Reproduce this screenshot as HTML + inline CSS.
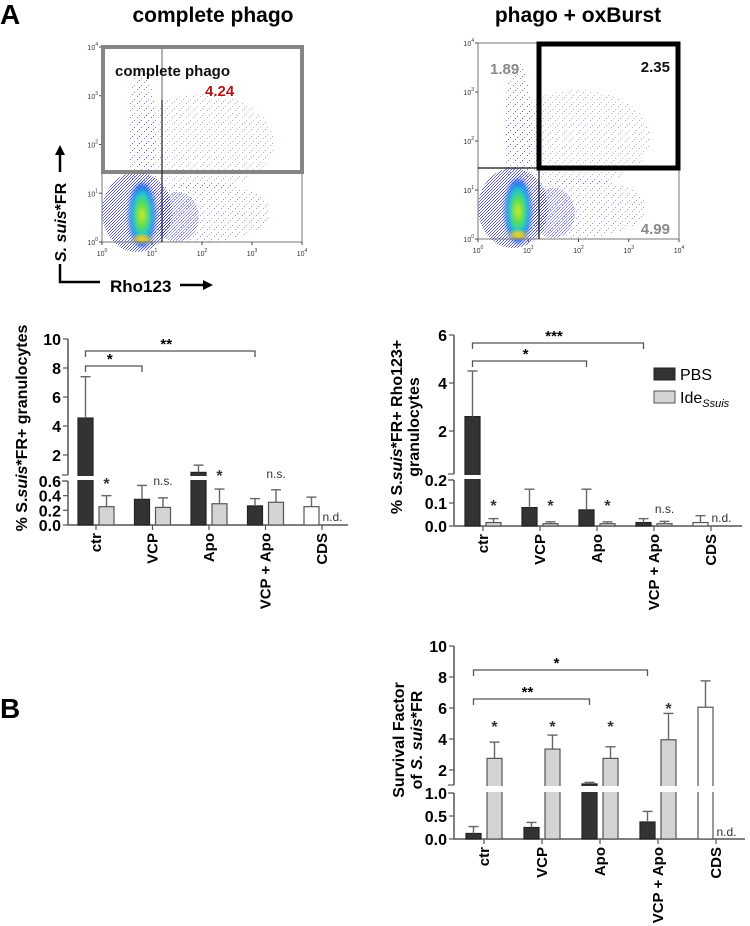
<!DOCTYPE html>
<html><head><meta charset="utf-8">
<style>
html,body{margin:0;padding:0;background:#fff;}
svg{display:block;font-family:"Liberation Sans",sans-serif;}
</style></head>
<body>
<svg id="fig" width="750" height="926" viewBox="0 0 750 926" xmlns="http://www.w3.org/2000/svg">
<defs>
  <pattern id="dots" width="7" height="7" patternUnits="userSpaceOnUse">
    <rect x="0" y="0" width="1" height="1" fill="#3030e0"/>
    <rect x="4" y="3" width="1" height="1" fill="#4545f0"/>
    <rect x="2" y="5" width="1" height="1" fill="#2020c8"/>
  </pattern>
  <pattern id="dotsDense" width="3" height="3" patternUnits="userSpaceOnUse">
    <rect x="0" y="0" width="1" height="1" fill="#1a1ad0"/>
    <rect x="2" y="1" width="1" height="1" fill="#2020e0"/>
    <rect x="1" y="2" width="1" height="1" fill="#1010b8"/>
  </pattern>
  <radialGradient id="core" cx="50%" cy="50%" r="50%">
    <stop offset="0" stop-color="#e8f020"/>
    <stop offset="0.35" stop-color="#5adf40"/>
    <stop offset="0.65" stop-color="#20c8d8"/>
    <stop offset="0.85" stop-color="#2060f0"/>
    <stop offset="1" stop-color="#1a1ad0" stop-opacity="0"/>
  </radialGradient>
  <filter id="blur2"><feGaussianBlur stdDeviation="2"/></filter>
</defs>

<text x="0" y="24" font-size="28" font-weight="bold">A</text>
<text x="213" y="22" font-size="21" font-weight="bold" text-anchor="middle">complete phago</text>
<text x="578" y="22" font-size="21" font-weight="bold" text-anchor="middle">phago + oxBurst</text>
<text x="0" y="718" font-size="28" font-weight="bold">B</text>

<g id="flows"></g>
<g id="charts"></g>
</svg>

<script>
// ---------- chart data ----------
const categories = ["ctr", "VCP", "Apo", "VCP + Apo", "CDS"];
// chart 1: % S.suis*FR+ granulocytes
const c1Pbs = [4.55, 0.35, 0.8, 0.26];
const c1PbsErr = [7.4, 0.54, 1.3, 0.36];
const c1Ide = [0.25, 0.24, 0.29, 0.31];
const c1IdeErr = [0.40, 0.37, 0.49, 0.48];
const c1Cds = [0.25];
const c1CdsErr = [0.38];
const c1TicksLow = [0, 0.2, 0.4, 0.6];
const c1TicksHigh = [2, 4, 6, 8, 10];
const c1TickLabelsLow = ["0.0", "0.2", "0.4", "0.6"];
const c1TickLabelsHigh = ["2", "4", "6", "8", "10"];
// chart 2: % S.suis*FR+ Rho123+ granulocytes
const c2Pbs = [2.6, 0.08, 0.07, 0.015];
const c2PbsErr = [4.5, 0.16, 0.16, 0.032];
const c2Ide = [0.015, 0.01, 0.01, 0.01];
const c2IdeErr = [0.032, 0.018, 0.018, 0.02];
const c2Cds = [0.015];
const c2CdsErr = [0.045];
const c2TicksLow = [0, 0.1, 0.2];
const c2TicksHigh = [2, 4, 6];
const c2TickLabelsLow = ["0.0", "0.1", "0.2"];
const c2TickLabelsHigh = ["2", "4", "6"];
// chart 3: survival factor
const c3Pbs = [0.12, 0.25, 1.1, 0.37];
const c3PbsErr = [0.27, 0.36, 1.2, 0.6];
const c3Ide = [2.75, 3.35, 2.75, 3.95];
const c3IdeErr = [3.8, 4.25, 3.5, 5.65];
const c3Cds = [6.05];
const c3CdsErr = [7.75];
const c3TicksLow = [0, 0.5, 1.0];
const c3TicksHigh = [2, 4, 6, 8, 10];
const c3TickLabelsLow = ["0.0", "0.5", "1.0"];
const c3TickLabelsHigh = ["2", "4", "6", "8", "10"];

const NS = "http://www.w3.org/2000/svg";
function mk(tag, attrs, parent, text) {
  const e = document.createElementNS(NS, tag);
  for (const k in attrs) e.setAttribute(k, attrs[k]);
  if (text !== undefined) e.textContent = text;
  parent.appendChild(e);
  return e;
}

// ---------- flow plots (decorative) ----------
function flow(g, ox, oy) {
  const G = mk("g", {transform: "translate(" + ox + "," + oy + ")"}, g);
  
  
  mk("ellipse", {cx: 40, cy: 90, rx: 14, ry: 70, fill: "url(#dots)", opacity: 0.6}, G);
  mk("ellipse", {cx: 100, cy: 95, rx: 72, ry: 48, fill: "url(#dots)", opacity: 0.4}, G);
  mk("ellipse", {cx: 100, cy: 165, rx: 68, ry: 30, fill: "url(#dots)", opacity: 0.5}, G);
  mk("ellipse", {cx: 35, cy: 165, rx: 35, ry: 40, fill: "url(#dotsDense)", opacity: 0.7}, G);
  mk("ellipse", {cx: 75, cy: 170, rx: 22, ry: 25, fill: "url(#dotsDense)", opacity: 0.45}, G);
  mk("ellipse", {cx: 40, cy: 168, rx: 14, ry: 34, fill: "url(#core)", filter: "url(#blur2)"}, G);
  mk("ellipse", {cx: 40, cy: 192, rx: 8, ry: 4, fill: "#f0d020", filter: "url(#blur2)"}, G);
}
const flows = document.getElementById("flows");
flow(flows, 102, 47);
flow(flows, 478, 43);

function flowAxes(x0, y0, w, h) {
  const g = mk("g", {}, flows);
  
  
  mk("rect", {x: x0, y: y0, width: w, height: h, fill: "none", stroke: "#777", "stroke-width": 1}, g);
  const labs = ["0", "1", "2", "3", "4"];
  for (let i = 0; i < 5; i++) {
    const yy = y0 + h - i * h / 4;
    const xx = x0 + i * w / 4;
    const t1 = mk("text", {x: x0 - 4, y: yy + 3, "font-size": 7, "text-anchor": "end", fill: "#333"}, g, "10");
    mk("tspan", {dy: -4, "font-size": 5}, t1, labs[i]);
    const t2 = mk("text", {x: xx, y: y0 + h + 14, "font-size": 7, "text-anchor": "middle", fill: "#333"}, g, "10");
    mk("tspan", {dy: -4, "font-size": 5}, t2, labs[i]);
    mk("line", {x1: x0 - 3, x2: x0, y1: yy, y2: yy, stroke: "#444"}, g);
    mk("line", {x1: xx, x2: xx, y1: y0 + h, y2: y0 + h + 3, stroke: "#444"}, g);
  }
}
flowAxes(102, 47, 200, 195);
flowAxes(478, 43, 201, 196);

(function(){
  const g = mk("g", {}, flows);
  
  
  mk("rect", {x: 103, y: 47, width: 199, height: 125, fill: "none", stroke: "#858585", "stroke-width": 4}, g);
  mk("line", {x1: 162, x2: 162, y1: 100, y2: 242, stroke: "#222", "stroke-width": 1.2}, g);
  mk("line", {x1: 162, x2: 162, y1: 49, y2: 100, stroke: "#666", "stroke-width": 1}, g);
  mk("text", {x: 115, y: 76, "font-size": 15, "font-weight": "bold", fill: "#111"}, g, "complete phago");
  mk("text", {x: 205, y: 96, "font-size": 15, "font-weight": "bold", fill: "#b01818"}, g, "4.24");
  const g2 = mk("g", {}, flows);
  
  
  mk("line", {x1: 478, x2: 541, y1: 168, y2: 168, stroke: "#111", "stroke-width": 1.2}, g2);
  mk("line", {x1: 539, x2: 539, y1: 168, y2: 239, stroke: "#111", "stroke-width": 1.2}, g2);
  mk("rect", {x: 539, y: 44, width: 139, height: 124, fill: "none", stroke: "#000", "stroke-width": 5}, g2);
  mk("text", {x: 490, y: 74, "font-size": 15, "font-weight": "bold", fill: "#888"}, g2, "1.89");
  mk("text", {x: 670, y: 72, "font-size": 15, "font-weight": "bold", fill: "#111", "text-anchor": "end"}, g2, "2.35");
  mk("text", {x: 670, y: 234, "font-size": 15, "font-weight": "bold", fill: "#888", "text-anchor": "end"}, g2, "4.99");
  const g3 = mk("g", {}, flows);
  
  
  mk("path", {d: "M60 152 L60 282 L100 282", fill: "none", stroke: "#000", "stroke-width": 2.5}, g3);
  mk("rect", {x: 50, y: 172, width: 20, height: 92, fill: "#fff"}, g3);
  const yl = mk("text", {x: 0, y: 0, "font-size": 16, "font-weight": "bold", transform: "translate(66,262) rotate(-90)"}, g3);
  mk("tspan", {"font-style": "italic"}, yl, "S. suis");
  mk("tspan", {}, yl, "*FR");
  mk("path", {d: "M60 145 l-5 10 h10 z", fill: "#000"}, g3);
  mk("text", {x: 110, y: 292, "font-size": 17, "font-weight": "bold"}, g3, "Rho123");
  mk("line", {x1: 180, x2: 205, y1: 285, y2: 285, stroke: "#000", "stroke-width": 2.5}, g3);
  mk("path", {d: "M213 285 l-10 -5 v10 z", fill: "#000"}, g3);
})();

// ---------- bar charts ----------
const charts = document.getElementById("charts");
function barChart(cfg) {
  const g = mk("g", {}, charts);
  
  
  const L = cfg.low, H = cfg.high;
  function y(v) {
    if (v <= L.max) return L.y0 - (v / L.max) * (L.y0 - L.y1);
    if (v < H.min) return L.y1;
    return H.refY - (v - H.ref) * H.ppu;
  }
  const bx = i => cfg.x0 + cfg.step * i;
  const ax = cfg.axisX;
  mk("line", {x1: ax, x2: ax, y1: L.y0, y2: L.y1, stroke: "#555", "stroke-width": 1.5}, g);
  mk("line", {x1: ax, x2: ax, y1: cfg.breakTop, y2: y(H.max), stroke: "#555", "stroke-width": 1.5}, g);
  mk("line", {x1: ax - 6, x2: ax, y1: cfg.breakTop, y2: cfg.breakTop, stroke: "#555", "stroke-width": 1.2}, g);
  mk("line", {x1: ax - 6, x2: ax, y1: L.y1, y2: L.y1, stroke: "#555", "stroke-width": 1.2}, g);
  mk("line", {x1: ax, x2: cfg.baseEnd, y1: L.y0, y2: L.y0, stroke: "#555", "stroke-width": 1.5}, g);
  cfg.ticksLow.forEach((t, i) => {
    const yy = y(t);
    mk("line", {x1: ax - 5, x2: ax, y1: yy, y2: yy, stroke: "#555", "stroke-width": 1.2}, g);
    const tl = mk("text", {x: ax - 7, y: yy + 6, "font-size": 16, "font-weight": "bold", "text-anchor": "end"}, g, cfg.tickLabelsLow[i]);
    
    
  });
  cfg.ticksHigh.forEach((t, i) => {
    const yy = y(t);
    mk("line", {x1: ax - 5, x2: ax, y1: yy, y2: yy, stroke: "#555", "stroke-width": 1.2}, g);
    const tl = mk("text", {x: ax - 7, y: yy + 6, "font-size": 16, "font-weight": "bold", "text-anchor": "end"}, g, cfg.tickLabelsHigh[i]);
    
    
  });
  function bar(x, v, e, fill, nm) {
    const top = y(v), et = y(e);
    const r = mk("rect", {x: x, y: top, width: cfg.bw, height: L.y0 - top, fill: fill, stroke: fill === "#333" ? "#222" : "#555", "stroke-width": 1.2}, g);
    
    
    const cx = x + cfg.bw / 2;
    const el = mk("line", {x1: cx, x2: cx, y1: top, y2: et, stroke: "#666", "stroke-width": 1.4}, g);
    
    
    mk("line", {x1: cx - 5, x2: cx + 5, y1: et, y2: et, stroke: "#666", "stroke-width": 1.4}, g);
    if (top < cfg.breakTop) {
      mk("rect", {x: x - 3, y: cfg.breakTop + 1, width: cfg.bw + 6, height: L.y1 - cfg.breakTop - 2, fill: "#fff"}, g);
    }
  }
  for (let i = 0; i < cfg.pbs.length; i++) {
    bar(bx(i), cfg.pbs[i], cfg.pbsErr[i], "#333", "bar-pbs-" + i);
    bar(bx(i) + cfg.gap, cfg.ide[i], cfg.ideErr[i], "#d4d4d4", "bar-ide-" + i);
  }
  bar(bx(4), cfg.cds[0], cfg.cdsErr[0], "#fff", "bar-cds");
  categories.forEach((c, i) => {
    const cx = bx(i) + (cfg.gap + cfg.bw) / 2;
    mk("line", {x1: cx, x2: cx, y1: L.y0, y2: L.y0 + 5, stroke: "#555", "stroke-width": 1.2}, g);
    const t = mk("text", {x: 0, y: 0, "font-size": 15, "font-weight": "bold", "text-anchor": "end", transform: "translate(" + (cx + 5) + "," + (L.y0 + 8) + ") rotate(-90)"}, g, c);
    
    
  });
  cfg.brackets.forEach(b => {
    const x1 = bx(b[0]) + cfg.bw / 2, x2 = bx(b[1]) + cfg.bw / 2;
    const p = mk("path", {d: "M" + x1 + " " + (b[2] + 6) + " V" + b[2] + " H" + x2 + " V" + (b[2] + 6), fill: "none", stroke: "#555", "stroke-width": 1.3}, g);
    
    
    mk("text", {x: (x1 + x2) / 2 - 4, y: b[2] - 2, "font-size": 15, "font-weight": "bold", "text-anchor": "middle"}, g, b[3]);
  });
  cfg.marks.forEach(m => {
    const cx = bx(m[0]) + cfg.gap + cfg.bw / 2;
    const t = mk("text", {x: cx, y: m[1], "font-size": m[2] === "*" ? 16 : 12, "font-weight": m[2] === "*" ? "bold" : "normal", "text-anchor": "middle", fill: "#333"}, g, m[2]);
    
    
  });
  return g;
}

barChart({
  name: "chart-phago", axisX: 68, baseEnd: 348, x0: 78, step: 56.5, gap: 21, bw: 15,
  low: {max: 0.6, y0: 525, y1: 481}, high: {min: 0.62, max: 10, ref: 2, refY: 455, ppu: 14.5}, breakTop: 475,
  pbs: c1Pbs, pbsErr: c1PbsErr, ide: c1Ide, ideErr: c1IdeErr, cds: c1Cds, cdsErr: c1CdsErr,
  ticksLow: c1TicksLow, ticksHigh: c1TicksHigh, tickLabelsLow: c1TickLabelsLow, tickLabelsHigh: c1TickLabelsHigh,
  brackets: [[0, 1, 366, "*"], [0, 3, 351, "**"]],
  marks: [[0, 489, "*"], [1, 485, "n.s."], [2, 481, "*"], [3, 478, "n.s."], [4, 521, "n.d."]]
});
barChart({
  name: "chart-oxburst", axisX: 454, baseEnd: 742, x0: 465, step: 57, gap: 21, bw: 15,
  low: {max: 0.2, y0: 526, y1: 480}, high: {min: 0.21, max: 6, ref: 2, refY: 431, ppu: 24}, breakTop: 474,
  pbs: c2Pbs, pbsErr: c2PbsErr, ide: c2Ide, ideErr: c2IdeErr, cds: c2Cds, cdsErr: c2CdsErr,
  ticksLow: c2TicksLow, ticksHigh: c2TicksHigh, tickLabelsLow: c2TickLabelsLow, tickLabelsHigh: c2TickLabelsHigh,
  brackets: [[0, 3, 343, "***"], [0, 2, 361, "*"]],
  marks: [[0, 511, "*"], [1, 511, "*"], [2, 511, "*"], [3, 513, "n.s."], [4, 522, "n.d."]]
});
barChart({
  name: "chart-survival", axisX: 454, baseEnd: 745, x0: 466, step: 58, gap: 21, bw: 15,
  low: {max: 1.0, y0: 839, y1: 793}, high: {min: 1.03, max: 10, ref: 2, refY: 770, ppu: 15.5}, breakTop: 785,
  pbs: c3Pbs, pbsErr: c3PbsErr, ide: c3Ide, ideErr: c3IdeErr, cds: c3Cds, cdsErr: c3CdsErr,
  ticksLow: c3TicksLow, ticksHigh: c3TicksHigh, tickLabelsLow: c3TickLabelsLow, tickLabelsHigh: c3TickLabelsHigh,
  brackets: [[0, 3, 670, "*"], [0, 2, 699, "**"]],
  marks: [[0, 732, "*"], [1, 732, "*"], [2, 732, "*"], [3, 714, "*"], [4, 836, "n.d."]]
});

function ytitle(lines, x, cy, gap) {
  const g = mk("g", {}, charts);
  
  
  lines.forEach((parts, i) => {
    const t = mk("text", {x: 0, y: 0, "font-size": 16, "font-weight": "bold", "text-anchor": "middle", transform: "translate(" + (x + i * gap) + "," + cy + ") rotate(-90)"}, g);
    parts.forEach(p => mk("tspan", p[1] ? {"font-style": "italic"} : {}, t, p[0]));
  });
}
ytitle([[["% S.", 0], ["suis", 1], ["*FR+ granulocytes", 0]]], 27, 428, 0);
ytitle([[["% S.", 0], ["suis", 1], ["*FR+ Rho123+", 0]], [["granulocytes", 0]]], 402, 427, 17);
ytitle([[["Survival Factor", 0]], [["of ", 0], ["S. suis", 1], ["*FR", 0]]], 404, 740, 18);

(function(){
  const g = mk("g", {}, charts);
  
  
  const e1 = mk("rect", {x: 654, y: 368, width: 21, height: 12, fill: "#333", stroke: "#222"}, g);
  
  
  mk("text", {x: 680, y: 380, "font-size": 16}, g, "PBS");
  const e2 = mk("rect", {x: 654, y: 391, width: 21, height: 12, fill: "#d4d4d4", stroke: "#555"}, g);
  
  
  const t = mk("text", {x: 680, y: 403, "font-size": 16}, g, "Ide");
  mk("tspan", {dy: 4, "font-size": 11, "font-style": "italic"}, t, "Ssuis");
})();
</script>
</body></html>
